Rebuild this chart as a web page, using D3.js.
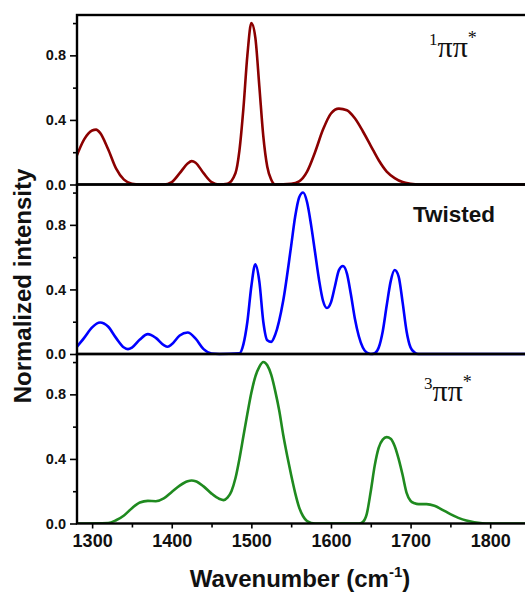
<!DOCTYPE html>
<html>
<head>
<meta charset="utf-8">
<script src="https://cdn.jsdelivr.net/npm/d3@7"></script>
<style>
  body { margin: 0; background: #fff; }
  svg { display: block; }
</style>
</head>
<body>
<svg id="chart" width="525" height="593"></svg>
<script>
// 1ππ* spectrum
var singletWn  = [1280,1290,1300,1305,1310,1320,1330,1340,1350,1360,1390,1400,1410,1420,1425,1430,1440,1450,1460,1470,1480,1485,1490,1495,1500,1505,1510,1515,1520,1525,1530,1550,1560,1570,1580,1590,1600,1610,1620,1630,1640,1650,1660,1670,1680,1690,1700,1710,1850];
var singletInt = [0.17,0.28,0.335,0.34,0.32,0.22,0.10,0.03,0.005,0,0,0.015,0.07,0.13,0.145,0.135,0.07,0.015,0,0.005,0.07,0.21,0.47,0.80,1.0,0.91,0.61,0.30,0.11,0.03,0.0,0.005,0.02,0.08,0.2,0.34,0.44,0.47,0.46,0.41,0.33,0.24,0.15,0.08,0.04,0.015,0.005,0,0];

// twisted spectrum
var twistWn  = [1280,1290,1300,1310,1320,1330,1340,1345,1350,1360,1370,1380,1390,1395,1400,1410,1420,1430,1440,1450,1460,1485,1490,1495,1500,1505,1510,1515,1520,1525,1530,1540,1550,1555,1560,1565,1570,1575,1580,1585,1590,1595,1600,1605,1610,1615,1620,1625,1630,1635,1640,1645,1650,1655,1660,1665,1670,1675,1680,1685,1690,1695,1700,1705,1710,1850];
var twistInt = [0.04,0.10,0.165,0.195,0.17,0.10,0.04,0.03,0.04,0.09,0.123,0.10,0.055,0.045,0.06,0.115,0.133,0.095,0.03,0.003,0,0.005,0.06,0.2,0.42,0.555,0.45,0.2,0.085,0.075,0.12,0.33,0.67,0.85,0.97,1.0,0.94,0.80,0.63,0.46,0.33,0.285,0.32,0.42,0.52,0.545,0.50,0.37,0.22,0.11,0.04,0.008,0,0.005,0.04,0.14,0.30,0.45,0.52,0.48,0.32,0.14,0.04,0.01,0,0];

// 3ππ* spectrum
var tripletWn  = [1280,1320,1330,1340,1350,1360,1370,1380,1390,1400,1410,1420,1425,1430,1440,1450,1460,1465,1470,1475,1480,1485,1490,1495,1500,1505,1510,1515,1520,1525,1530,1535,1540,1545,1550,1555,1560,1565,1570,1580,1635,1640,1645,1650,1655,1660,1665,1670,1675,1680,1685,1690,1695,1700,1705,1710,1720,1730,1740,1750,1760,1770,1780,1790,1800,1850];
var tripletInt = [0,0.003,0.02,0.05,0.095,0.13,0.14,0.138,0.155,0.195,0.235,0.262,0.266,0.262,0.23,0.185,0.152,0.145,0.16,0.2,0.28,0.4,0.54,0.68,0.81,0.91,0.97,1.0,0.98,0.92,0.82,0.70,0.55,0.42,0.30,0.19,0.10,0.045,0.015,0,0,0.01,0.06,0.2,0.36,0.47,0.52,0.535,0.525,0.48,0.40,0.30,0.19,0.14,0.125,0.12,0.12,0.11,0.085,0.058,0.035,0.018,0.008,0.002,0,0];

var xTicks = [1300,1400,1500,1600,1700,1800];
var yTicks = [0.0,0.4,0.8];

var svg = d3.select('#chart'),
  left = 77,
  right = 530,
  panelTop = 15,
  panelH = 169.5,
  font = '"Liberation Sans", Arial, sans-serif',
  serif = '"Liberation Serif", "Times New Roman", serif';

var x = d3.scaleLinear().domain([1281, 1850]).range([left, right]);

var panels = [
  {wn: singletWn, val: singletInt, color: '#8b0000'},
  {wn: twistWn, val: twistInt, color: '#0000ff'},
  {wn: tripletWn, val: tripletInt, color: '#1f8a1f'}
];

svg.append('defs').append('clipPath').attr('id', 'plotClip')
  .append('rect')
  .attr('x', left).attr('y', panelTop)
  .attr('width', right - left).attr('height', panelH * 3);

panels.forEach(function(p, i) {
  var top = panelTop + i * panelH,
    bottom = top + panelH;
  var y = d3.scaleLinear().domain([0, 1.05]).range([bottom, top]);

  var line = d3.line()
    .x(function(d, j) { return x(p.wn[j]); })
    .y(function(d) { return y(d); })
    .curve(d3.curveMonotoneX);

  svg.append('path')
    .datum(p.val)
    .attr('clip-path', 'url(#plotClip)')
    .attr('fill', 'none')
    .attr('stroke', p.color)
    .attr('stroke-width', 2.6)
    .attr('stroke-linejoin', 'round')
    .attr('d', line);

  // y axis (major + minor)
  var ax = d3.axisLeft(y).tickValues(yTicks).tickSize(7).tickPadding(4)
    .tickFormat(d3.format('.1f'));
  var g = svg.append('g').attr('transform', 'translate(' + left + ',0)').call(ax);
  g.select('.domain').remove();
  g.selectAll('line').attr('stroke', '#000').attr('stroke-width', 1.6);
  g.selectAll('text')
    .style('font-family', font).style('font-weight', 'bold').style('font-size', '14.5px')
    .attr('fill', '#111');

  var gm = svg.append('g').attr('transform', 'translate(' + left + ',0)')
    .call(d3.axisLeft(y).tickValues([0.2, 0.6, 1.0]).tickSize(4).tickFormat(''));
  gm.select('.domain').remove();
  gm.selectAll('line').attr('stroke', '#000').attr('stroke-width', 1.6);

  // panel frame
  svg.append('rect')
    .attr('x', left).attr('y', top)
    .attr('width', right - left).attr('height', panelH)
    .attr('fill', 'none').attr('stroke', '#000').attr('stroke-width', 2.4);

  if (i === 2) {
    var xa = d3.axisBottom(x).tickValues(xTicks).tickSize(5).tickPadding(6)
      .tickFormat(d3.format('d'));
    var gx = svg.append('g').attr('transform', 'translate(0,' + bottom + ')').call(xa);
    gx.select('.domain').remove();
    gx.selectAll('line').attr('stroke', '#000').attr('stroke-width', 1.6);
    gx.selectAll('text')
      .style('font-family', font).style('font-weight', 'bold').style('font-size', '18px')
      .attr('fill', '#111');
    var gxm = svg.append('g').attr('transform', 'translate(0,' + bottom + ')')
      .call(d3.axisBottom(x).tickValues([1350,1450,1550,1650,1750]).tickSize(4).tickFormat(''));
    gxm.select('.domain').remove();
    gxm.selectAll('line').attr('stroke', '#000').attr('stroke-width', 1.6);
  }
});

// panel labels
function piLabel(sup, xx, yy) {
  var t = svg.append('text').attr('x', xx).attr('y', yy)
    .style('font-family', serif).attr('fill', '#111');
  t.append('tspan').text(sup).style('font-size', '17px').attr('dy', -12);
  t.append('tspan').text('\u03c0\u03c0').style('font-size', '30px').attr('dy', 12);
  t.append('tspan').text('*').style('font-size', '18px').attr('dy', -13);
}
piLabel('1', 429, 57);
piLabel('3', 424, 401);

svg.append('text').attr('x', 413).attr('y', 222)
  .style('font-family', font).style('font-weight', 'bold').style('font-size', '22.5px')
  .attr('fill', '#111').text('Twisted');

// axis titles
svg.append('text')
  .attr('transform', 'translate(31,' + 286 + ') rotate(-90)')
  .attr('text-anchor', 'middle')
  .style('font-family', font).style('font-weight', 'bold').style('font-size', '24px')
  .attr('fill', '#111').text('Normalized intensity');

var xt = svg.append('text').attr('x', 300).attr('y', 587).attr('text-anchor', 'middle')
  .style('font-family', font).style('font-weight', 'bold').style('font-size', '24px')
  .attr('fill', '#111');
xt.append('tspan').text('Wavenumber (cm');
xt.append('tspan').text('-1').style('font-size', '15px').attr('dy', -10);
xt.append('tspan').text(')').attr('dy', 10);
</script>
</body>
</html>
